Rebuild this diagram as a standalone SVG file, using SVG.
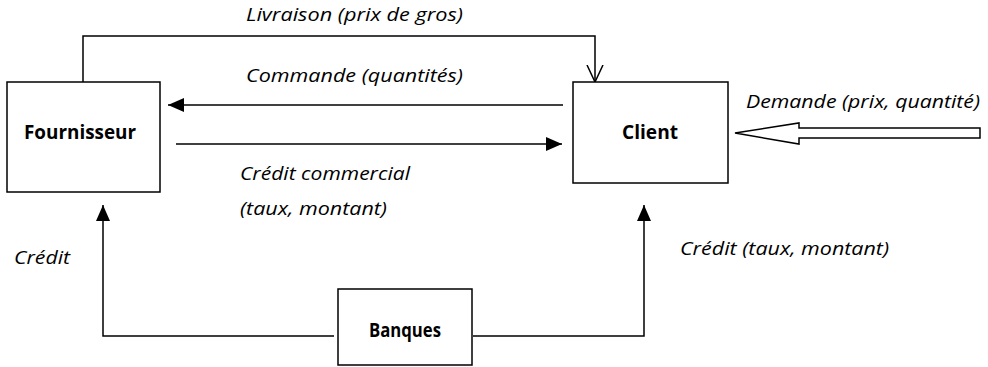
<svg xmlns="http://www.w3.org/2000/svg" width="988" height="367" viewBox="0 0 988 367">
<style>
.box{fill:#fff;stroke:#000;stroke-width:1.5}
.ln{fill:none;stroke:#000;stroke-width:1.5}
.lbl{font-family:"Open Sans","Liberation Sans",sans-serif;font-style:italic;font-size:18px;fill:#000}
.nm{font-family:"Open Sans","Liberation Sans",sans-serif;font-weight:bold;font-size:20px;fill:#000;text-anchor:middle}
</style>
<defs>
<marker id="big" markerWidth="16" markerHeight="14" refX="16" refY="7" orient="auto" markerUnits="userSpaceOnUse" viewBox="0 0 16 14">
<path d="M0,0 L16,7 L0,14 z" fill="#000"/>
</marker>
<marker id="open" markerWidth="18" markerHeight="18" refX="17" refY="9" orient="auto" markerUnits="userSpaceOnUse" viewBox="0 0 18 18">
<path d="M0,1 L17,9 L0,17" fill="none" stroke="#000" stroke-width="1.5"/>
</marker>
</defs>
<g id="connectors">
<path class="ln" d="M83,82 V36 H595 V82" marker-end="url(#open)"/>
<line class="ln" x1="563" y1="105" x2="168" y2="105" marker-end="url(#big)"/>
<line class="ln" x1="176" y1="144" x2="562" y2="144" marker-end="url(#big)"/>
<path class="ln" d="M334,336 H103 V205" marker-end="url(#big)"/>
<path class="ln" d="M473,336 H644 V205" marker-end="url(#big)"/>
<path class="box" d="M980,128 H799 V123 L735,133 L799,144 V138 H980 Z"/>
</g>
<g id="labels">
<text class="lbl" x="246" y="21" textLength="217" lengthAdjust="spacingAndGlyphs">Livraison (prix de gros)</text>
<text class="lbl" x="246" y="82" textLength="217" lengthAdjust="spacingAndGlyphs">Commande (quantités)</text>
<text class="lbl" x="240" y="180" textLength="170" lengthAdjust="spacingAndGlyphs">Crédit commercial</text>
<text class="lbl" x="240" y="215" textLength="147" lengthAdjust="spacingAndGlyphs">(taux, montant)</text>
<text class="lbl" x="746" y="108" textLength="234" lengthAdjust="spacingAndGlyphs">Demande (prix, quantité)</text>
<text class="lbl" x="14" y="264" textLength="56" lengthAdjust="spacingAndGlyphs">Crédit</text>
<text class="lbl" x="680" y="255" textLength="209" lengthAdjust="spacingAndGlyphs">Crédit (taux, montant)</text>
</g>
<g id="fournisseur">
<rect class="box" x="7" y="82" width="153" height="110"/>
<text class="nm" x="80" y="139" textLength="112" lengthAdjust="spacingAndGlyphs">Fournisseur</text>
</g>
<g id="client">
<rect class="box" x="573" y="82" width="155" height="101"/>
<text class="nm" x="650" y="139" textLength="56" lengthAdjust="spacingAndGlyphs">Client</text>
</g>
<g id="banques">
<rect class="box" x="338" y="289" width="134" height="76"/>
<text class="nm" x="405" y="337" textLength="72" lengthAdjust="spacingAndGlyphs">Banques</text>
</g>
</svg>
